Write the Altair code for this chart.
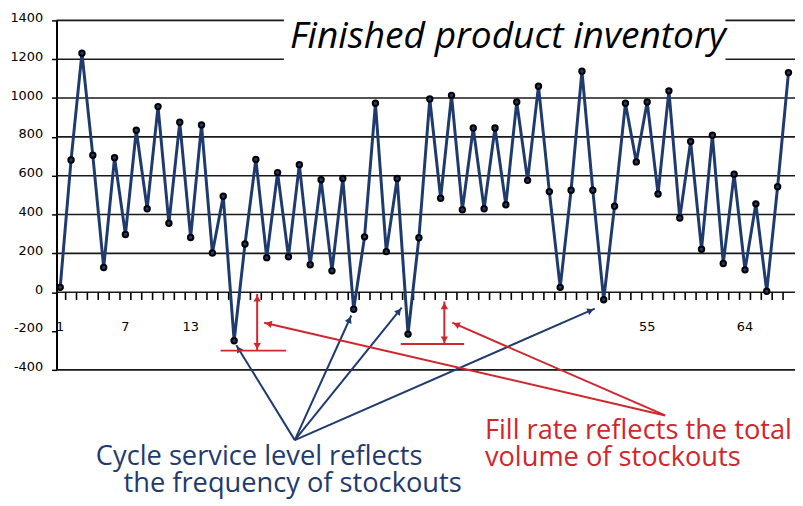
import math
import altair as alt
import pandas as pd

# ---------------- data ----------------
periods = list(range(1, 69))
inventory = [25, 681, 1231, 705, 127, 693, 297, 834, 430, 956, 355, 875,
             282, 861, 202, 494, -250, 248, 684, 178, 616, 182, 657, 141,
             579, 110, 586, -88, 285, 973, 209, 586, -216, 280, 995, 484,
             1014, 425, 846, 430, 846, 450, 980, 576, 1061, 518, 25, 525,
             1138, 525, -39, 443, 973, 671, 980, 506, 1037, 382, 776, 221,
             808, 148, 608, 115, 455, 5, 543, 1131]
y_ticks = [-400, -200, 0, 200, 400, 600, 800, 1000, 1200, 1400]
grid_values = [-400, 0, 200, 400, 600, 800, 1000, 1200, 1400]
x_labels = [1, 7, 13, 55, 64]
title_text = "Finished product inventory"
navy_lines = ["Cycle service level reflects", "the frequency of stockouts"]
red_lines = ["Fill rate reflects the total", "volume of stockouts"]

# annotation geometry in data units (period, inventory)
navy_origin = (22.58, -762)
navy_tips = [(17.2, -273), (27.78, -120), (32.42, -80), (50.18, -85)]
red_origin = (56.65, -635)
red_tips = [(19.76, -157), (37.07, -157)]
gap_arrows = [(19.12, -9, -301), (36.34, -48, -267)]
gap_bases = [(15.75, 21.77, -301), (32.33, 38.16, -267)]

# ---------------- layout ----------------
W, H = 746, 353
X0, X1 = 0.66, 68.6
Y0, Y1 = -400, 1400
PPX = W / (X1 - X0)
PPY = H / (Y1 - Y0)
NAVY = "#1f3a6d"
RED = "#d0262d"

xs = alt.Scale(domain=[X0, X1], nice=False, zero=False)
ys = alt.Scale(domain=[Y0, Y1], nice=False, zero=False)

y_axis = alt.Axis(
    values=y_ticks, grid=False, title=None, domainColor="black", domainWidth=2,
    tickColor="black", tickSize=5, tickWidth=1.5, labelFont="DejaVu Sans",
    labelFontSize=13, labelColor="black", labelPadding=9, labelOffset=-3,
    labelExpr="'' + datum.value")

df = pd.DataFrame({"p": periods, "v": inventory})


def XE(f="p"):
    return alt.X(f"{f}:Q", scale=xs, axis=None)


def YE(f="v"):
    return alt.Y(f"{f}:Q", scale=ys, axis=y_axis)


def arrow_heads(pairs, pull=4.5):
    rows = []
    for (sp, sv), (tp, tv) in pairs:
        dx = (tp - sp) * PPX
        dy = -(tv - sv) * PPY  # screen, down positive
        ln = math.hypot(dx, dy)
        ux, uy = dx / ln, dy / ln
        ang = math.degrees(math.atan2(dx, -dy)) % 360
        rows.append({"p": tp - pull * ux / PPX, "v": tv + pull * uy / PPY, "ang": ang})
    return pd.DataFrame(rows)


# grid
grid_df = pd.DataFrame({"v": grid_values, "p": X0, "p2": X1})
grid = alt.Chart(grid_df).mark_rule(color="#1a1a1a", strokeWidth=1.6).encode(
    x=XE(), x2="p2:Q", y=YE(),
)

# title box + title
box_df = pd.DataFrame({"p": [21.58], "p2": [62.2], "v": [1420], "v2": [1180]})
title_box = alt.Chart(box_df).mark_rect(color="white").encode(
    x=XE(), x2="p2:Q", y=YE(), y2="v2:Q",
)
title = alt.Chart(pd.DataFrame({"t": [title_text], "p": [22.13], "v": [1259]})).mark_text(
    font="Open Sans", fontStyle="italic", fontSize=37.5, align="left",
    baseline="alphabetic", color="black"
).encode(x=XE(), y=YE(), text="t:N")

# category ticks on zero line
tick_df = pd.DataFrame({"p": [k + 0.5 for k in periods[:-1]], "v": 0, "v2": -40})
xticks = alt.Chart(tick_df).mark_rule(color="black", strokeWidth=1.6).encode(
    x=XE(), y=YE(), y2="v2:Q",
)
xlab_df = pd.DataFrame({"p": x_labels, "v": -177, "t": [str(x) for x in x_labels]})
xlab = alt.Chart(xlab_df).mark_text(
    font="DejaVu Sans", fontSize=13, color="black", baseline="middle", align="center"
).encode(x=XE(), y=YE(), text="t:N")

# main series
line = alt.Chart(df).mark_line(color=NAVY, strokeWidth=3).encode(x=XE(), y=YE())
pts = alt.Chart(df).mark_point(
    shape="circle", filled=True, fill=NAVY, stroke="black", strokeWidth=2,
    size=30, opacity=1
).encode(x=XE(), y=YE())

# arrows
navy_seg = pd.DataFrame([{"p": navy_origin[0], "v": navy_origin[1], "p2": t[0], "v2": t[1]} for t in navy_tips])
red_seg = pd.DataFrame(
    [{"p": red_origin[0], "v": red_origin[1], "p2": t[0], "v2": t[1]} for t in red_tips]
    + [{"p": a[0], "v": a[1], "p2": a[0], "v2": a[2]} for a in gap_arrows]
    + [{"p": b[0], "v": b[2], "p2": b[1], "v2": b[2]} for b in gap_bases]
)


def seg_layer(d, color, width):
    return alt.Chart(d).mark_rule(color=color, strokeWidth=width).encode(
        x=XE(), x2="p2:Q", y=YE(), y2="v2:Q",
    )


def head_layer(d, color):
    return alt.Chart(d).mark_point(
        shape="triangle-up", filled=True, color=color, size=55, opacity=1
    ).encode(x=XE(), y=YE(), angle=alt.Angle("ang:Q", scale=None))


navy_heads = arrow_heads([(navy_origin, t) for t in navy_tips])
red_pairs = [(red_origin, t) for t in red_tips]
for a in gap_arrows:
    red_pairs.append(((a[0], a[2]), (a[0], a[1])))
    red_pairs.append(((a[0], a[1]), (a[0], a[2])))
red_heads = arrow_heads(red_pairs)

# annotation texts
navy_txt = pd.DataFrame({"t": navy_lines, "p": [4.28, 6.83], "v": [-851, -991]})
red_txt = pd.DataFrame({"t": red_lines, "p": [40.07, 40.07], "v": [-713, -854]})


def text_layer(d, color):
    return alt.Chart(d).mark_text(
        font="Open Sans", fontSize=27.5, align="left", baseline="middle", color=color
    ).encode(x=XE(), y=YE(), text="t:N")


chart = alt.layer(
    grid, title_box, title, xticks, xlab, line, pts,
    seg_layer(navy_seg, NAVY, 2), head_layer(navy_heads, NAVY),
    seg_layer(red_seg, RED, 2), head_layer(red_heads, RED),
    text_layer(navy_txt, NAVY), text_layer(red_txt, RED),
).properties(
    width=W, height=H, autosize="none",
    padding={"left": 49, "top": 10, "right": 0, "bottom": 132},
).configure_view(stroke=None).configure(background="white")

chart.save("out.html", embed_options={"renderer": "svg", "actions": False})
